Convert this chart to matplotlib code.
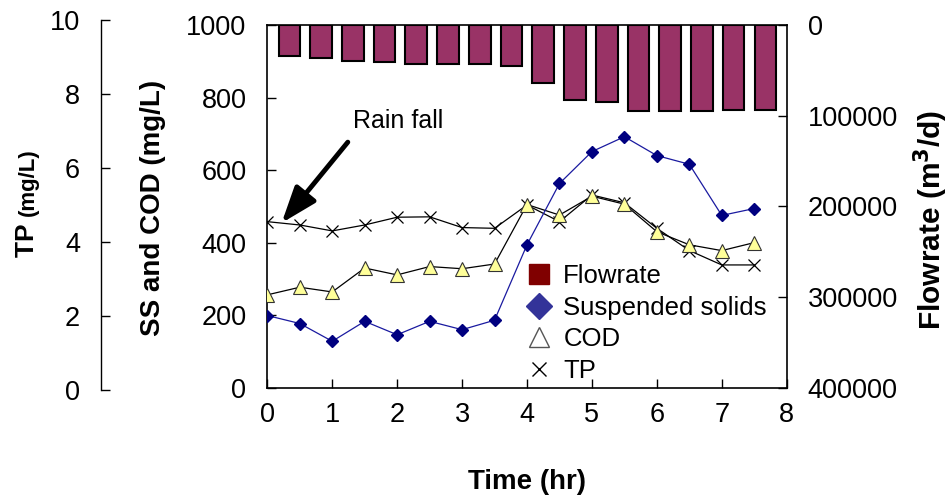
import numpy as np
import matplotlib
matplotlib.use("Agg")
import matplotlib.pyplot as plt
from matplotlib.lines import Line2D

plt.rcParams['font.family'] = ['Liberation Sans', 'DejaVu Sans']

# datos
tiempo = [0, 0.5, 1, 1.5, 2, 2.5, 3, 3.5, 4, 4.5, 5, 5.5, 6, 6.5, 7, 7.5]
caudal = [34400, 36700, 39300, 41100, 42700, 42700, 42700, 44900,
          64300, 82600, 84500, 95300, 95300, 95300, 93800, 93800]
ss = [199, 177, 128, 183, 146, 183, 160, 186, 394, 563, 651, 692, 640, 616, 475, 494]
cod = [256, 277, 264, 330, 311, 334, 328, 341, 505, 476, 528, 506, 430, 394, 378, 400]
tp = [4.55, 4.46, 4.30, 4.46, 4.67, 4.68, 4.39, 4.37, 5.00, 4.55, 5.27, 5.06,
      4.37, 3.77, 3.38, 3.38]

W, H = 949, 500
fig = plt.figure(figsize=(W / 100, H / 100), dpi=100)

def px(x0, y0, x1, y1):
    # caja en pixeles -> fracciones de figura
    return [x0 / W, 1 - y1 / H, (x1 - x0) / W, (y1 - y0) / H]

L, R, T, B = 267.3, 786.7, 25, 387.7
tick_kw = dict(direction='in', length=6.5, width=1, labelsize=19.5)

# barras de caudal (eje derecho invertido)
ax_bar = fig.add_axes(px(L, T, R, B))
idx = np.arange(len(caudal))
ax_bar.bar(idx, caudal, width=0.68, color='#993366', edgecolor='black', linewidth=1.5)
ax_bar.set_xlim(-0.693, 15.67)
ax_bar.set_ylim(400000, 0)
ax_bar.set_yticks(np.arange(0, 400001, 100000))
ax_bar.yaxis.tick_right()
ax_bar.tick_params(axis='y', pad=15, **tick_kw)
ax_bar.set_xticks([])
for s in ax_bar.spines.values():
    s.set_visible(False)

# eje TP (a la izquierda, separado)
ax_tp = fig.add_axes(px(L, 20, R, 390))
ax_tp.patch.set_visible(False)
ax_tp.plot(tiempo, tp, color='black', linewidth=0.9, marker='x', markersize=9,
           markeredgewidth=0.9, zorder=3)
ax_tp.set_xlim(0, 8)
ax_tp.set_ylim(0, 10)
ax_tp.set_yticks(np.arange(0, 11, 2))
ax_tp.set_xticks([])
for k in ['top', 'right', 'bottom']:
    ax_tp.spines[k].set_visible(False)
ax_tp.spines['left'].set_position(('axes', (101 - L) / (R - L)))
ax_tp.spines['left'].set_linewidth(1)
ax_tp.tick_params(axis='y', pad=15, **tick_kw)

# eje principal SS y COD
ax = fig.add_axes(px(L, T, R, B))
ax.patch.set_visible(False)
ax.plot(tiempo, ss, color='#1a1aa0', linewidth=0.9, marker='D', markersize=6.5,
        markerfacecolor='#000080', markeredgecolor='#000080', zorder=4)
ax.plot(tiempo, cod, color='black', linewidth=0.9, marker='^', markersize=10,
        markerfacecolor='#FFFF99', markeredgecolor='#333333', markeredgewidth=0.8, zorder=3)
ax.set_xlim(0, 8)
ax.set_ylim(0, 1000)
ax.set_xticks(np.arange(0, 9, 1))
ax.set_yticks(np.arange(0, 1001, 200))
ax.tick_params(axis='y', pad=15, **tick_kw)
ax.tick_params(axis='x', pad=10.5, **tick_kw)
for s in ax.spines.values():
    s.set_linewidth(1.2)

# flecha de lluvia
ax.annotate('', xy=(0.22, 454), xytext=(1.24, 677),
            arrowprops=dict(arrowstyle='-|>,head_length=1.1,head_width=0.4',
                            color='black', lw=3.5, mutation_scale=20, shrinkA=0, shrinkB=0))
ax.text(1.32, 716, 'Rain fall', fontsize=18, ha='left', va='baseline')

# leyenda
handles = [
    Line2D([], [], linestyle='none', marker='s', markersize=14,
           markerfacecolor='#800000', markeredgecolor='#800000'),
    Line2D([], [], linestyle='none', marker='D', markersize=13,
           markerfacecolor='#333399', markeredgecolor='#333399'),
    Line2D([], [], linestyle='none', marker='^', markersize=14,
           markerfacecolor='white', markeredgecolor='#555555', markeredgewidth=1),
    Line2D([], [], linestyle='none', marker='x', markersize=10,
           markeredgecolor='black', markeredgewidth=1),
]
labels = ['Flowrate', 'Suspended solids', 'COD', 'TP']
fig.legend(handles, labels, loc='upper left', bbox_to_anchor=(526 / W, 1 - 264 / H),
           frameon=False, fontsize=18.5, handlelength=1.0, handletextpad=0.45,
           labelspacing=0.3, borderaxespad=0, borderpad=0)

# etiquetas de ejes
fig.text(527 / W, 1 - 482 / H, 'Time (hr)', fontsize=20, fontweight='bold',
         ha='center', va='center')
fig.text(153 / W, 1 - 208 / H, 'SS and COD (mg/L)', fontsize=20, fontweight='bold',
         rotation=90, ha='center', va='center')
fig.text(941 / W, 1 - 220 / H, 'Flowrate (m$^\\mathbf{3}$/d)', fontsize=21.5,
         fontweight='bold', rotation=90, rotation_mode='anchor',
         ha='center', va='baseline')

# TP (mg/L) con dos tamanos
renderer = fig.canvas.get_renderer()
t1 = fig.text(33.5 / W, 1 - 257 / H, 'TP ', fontsize=19, fontweight='bold',
              rotation=90, rotation_mode='anchor', ha='left', va='baseline')
ext = t1.get_window_extent(renderer)
fig.text(33.5 / W, (1 - 257 / H) + ext.height / H, '(mg/L)', fontsize=16,
         fontweight='bold', rotation=90, rotation_mode='anchor', ha='left', va='baseline')

fig.savefig('out.png', dpi=100)
